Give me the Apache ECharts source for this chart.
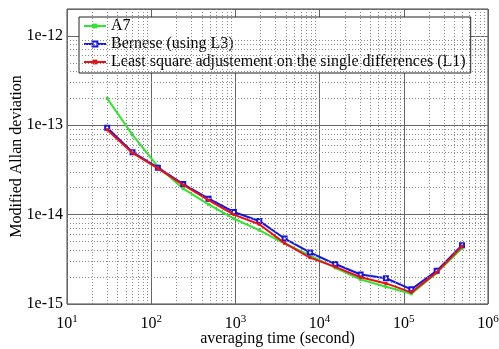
<!DOCTYPE html>
<html>
<head>
<meta charset="utf-8">
<script src="https://cdn.jsdelivr.net/npm/echarts@6/dist/echarts.min.js"></script>
<style>
  html, body { margin: 0; padding: 0; background: #fff; }
  #main { width: 499px; height: 349px; }
</style>
</head>
<body>
<div id="main"></div>
<script>
// averaging times (s)
var tau = [30, 60, 120, 240, 480, 960, 1920, 3840, 7680, 15360, 30720, 61440, 122880, 245760, 491520];
// modified Allan deviation
var a7      = [2.0e-13, 7.8e-14, 3.45e-14, 1.95e-14, 1.30e-14, 9.0e-15, 6.7e-15, 4.75e-15, 3.5e-15, 2.54e-15, 1.88e-15, 1.56e-15, 1.30e-15, 2.23e-15, 4.2e-15];
var bernese = [9.4e-14, 5.0e-14, 3.35e-14, 2.2e-14, 1.51e-14, 1.07e-14, 8.5e-15, 5.4e-15, 3.77e-15, 2.8e-15, 2.14e-15, 1.94e-15, 1.46e-15, 2.35e-15, 4.55e-15];
var lsq     = [8.9e-14, 4.9e-14, 3.3e-14, 2.15e-14, 1.45e-14, 1.0e-14, 7.8e-15, 4.8e-15, 3.3e-15, 2.6e-15, 1.99e-15, 1.70e-15, 1.35e-15, 2.26e-15, 4.43e-15];
var names = ['A7', 'Bernese (using L3)', 'Least square adjustement on the single differences (L1)'];

var xRange = [10, 1e6];
var yRange = [1e-15, 2e-12];

function pairs(ys) {
  return tau.map(function (t, i) { return [t, ys[i]]; });
}

// minor grid lines at 2..9 x 10^n, as segments across the plot
var minorLines = [];
for (var e = 1; e < 6; e++) {
  for (var m = 2; m <= 9; m++) {
    var xv = m * Math.pow(10, e);
    minorLines.push([{ coord: [xv, yRange[0]] }, { coord: [xv, yRange[1]] }]);
  }
}
for (var e2 = -15; e2 < -12; e2++) {
  for (var m2 = 2; m2 <= 9; m2++) {
    var yv = m2 * Math.pow(10, e2);
    if (yv >= yRange[1]) continue;
    minorLines.push([{ coord: [xRange[0], yv] }, { coord: [xRange[1], yv] }]);
  }
}

var serif = 'Liberation Serif';

function decade(v) {
  var p = Math.log10(v);
  var r = Math.round(p);
  if (Math.abs(p - r) > 1e-6) return null;
  return r;
}

var myChart = echarts.init(document.getElementById('main'));

var option = {
  animation: false,
  grid: {
    left: 67, top: 9, right: 11, bottom: 45,
    outerBoundsMode: 'none', containLabel: false,
    show: true, borderColor: '#444', borderWidth: 1
  },
  legend: {
    orient: 'vertical',
    left: 79, top: 17,
    itemWidth: 22, itemHeight: 6, itemGap: 2,
    padding: [1, 5, 3, 4],
    backgroundColor: '#fff',
    borderColor: '#222', borderWidth: 1, borderRadius: 0,
    textStyle: { fontFamily: serif, fontSize: 16, lineHeight: 16, color: '#000' },
    data: names
  },
  xAxis: {
    type: 'log', logBase: 10, min: xRange[0], max: xRange[1],
    name: 'averaging time (second)',
    nameLocation: 'middle', nameGap: 27, nameMoveOverlap: false,
    nameTextStyle: { fontFamily: serif, fontSize: 16, color: '#000' },
    axisLine: { show: false },
    axisTick: { show: false },
    axisLabel: {
      margin: 10,
      formatter: function (v) {
        var d = decade(v);
        return d === null ? '' : '{b|10}{s|' + d + '}';
      },
      rich: {
        b: { fontFamily: serif, fontSize: 16, color: '#000' },
        s: { fontFamily: serif, fontSize: 11, color: '#000', padding: [0, 0, 9, 0] }
      }
    },
    splitLine: { show: true, lineStyle: { color: '#666', width: 1 } }
  },
  yAxis: {
    type: 'log', logBase: 10, min: yRange[0], max: yRange[1],
    name: 'Modified Allan deviation',
    nameLocation: 'middle', nameGap: 42, nameMoveOverlap: false,
    nameTextStyle: { fontFamily: serif, fontSize: 16, color: '#000' },
    axisLine: { show: false },
    axisTick: { show: false },
    axisLabel: {
      margin: 4,
      fontFamily: serif, fontSize: 16, color: '#000',
      formatter: function (v) {
        var d = decade(v);
        return d === null ? '' : '1e' + d;
      }
    },
    splitLine: { show: true, lineStyle: { color: '#666', width: 1 } }
  },
  series: [
    {
      type: 'line', data: [[1000, 1e-14]], z: 1, silent: true,
      symbol: 'none', lineStyle: { opacity: 0 },
      markLine: {
        silent: true, symbol: 'none', animation: false,
        label: { show: false },
        lineStyle: { type: [1, 2], color: '#8a8a8a', width: 1 },
        data: minorLines
      }
    },
    {
      type: 'line', name: names[0], data: pairs(a7), z: 3,
      color: '#2ee82e', symbol: 'rect', symbolSize: 3,
      lineStyle: { width: 2 }, itemStyle: { color: '#2ee82e' }
    },
    {
      type: 'line', name: names[1], data: pairs(bernese), z: 4,
      color: '#1414e6', symbol: 'emptyRect', symbolSize: 4,
      lineStyle: { width: 2 }, itemStyle: { color: '#1414e6', borderWidth: 1 }
    },
    {
      type: 'line', name: names[2], data: pairs(lsq), z: 5,
      color: '#ee1010', symbol: 'rect', symbolSize: 3,
      lineStyle: { width: 2 }, itemStyle: { color: '#ee1010' }
    }
  ]
};

myChart.setOption(option);
</script>
</body>
</html>
